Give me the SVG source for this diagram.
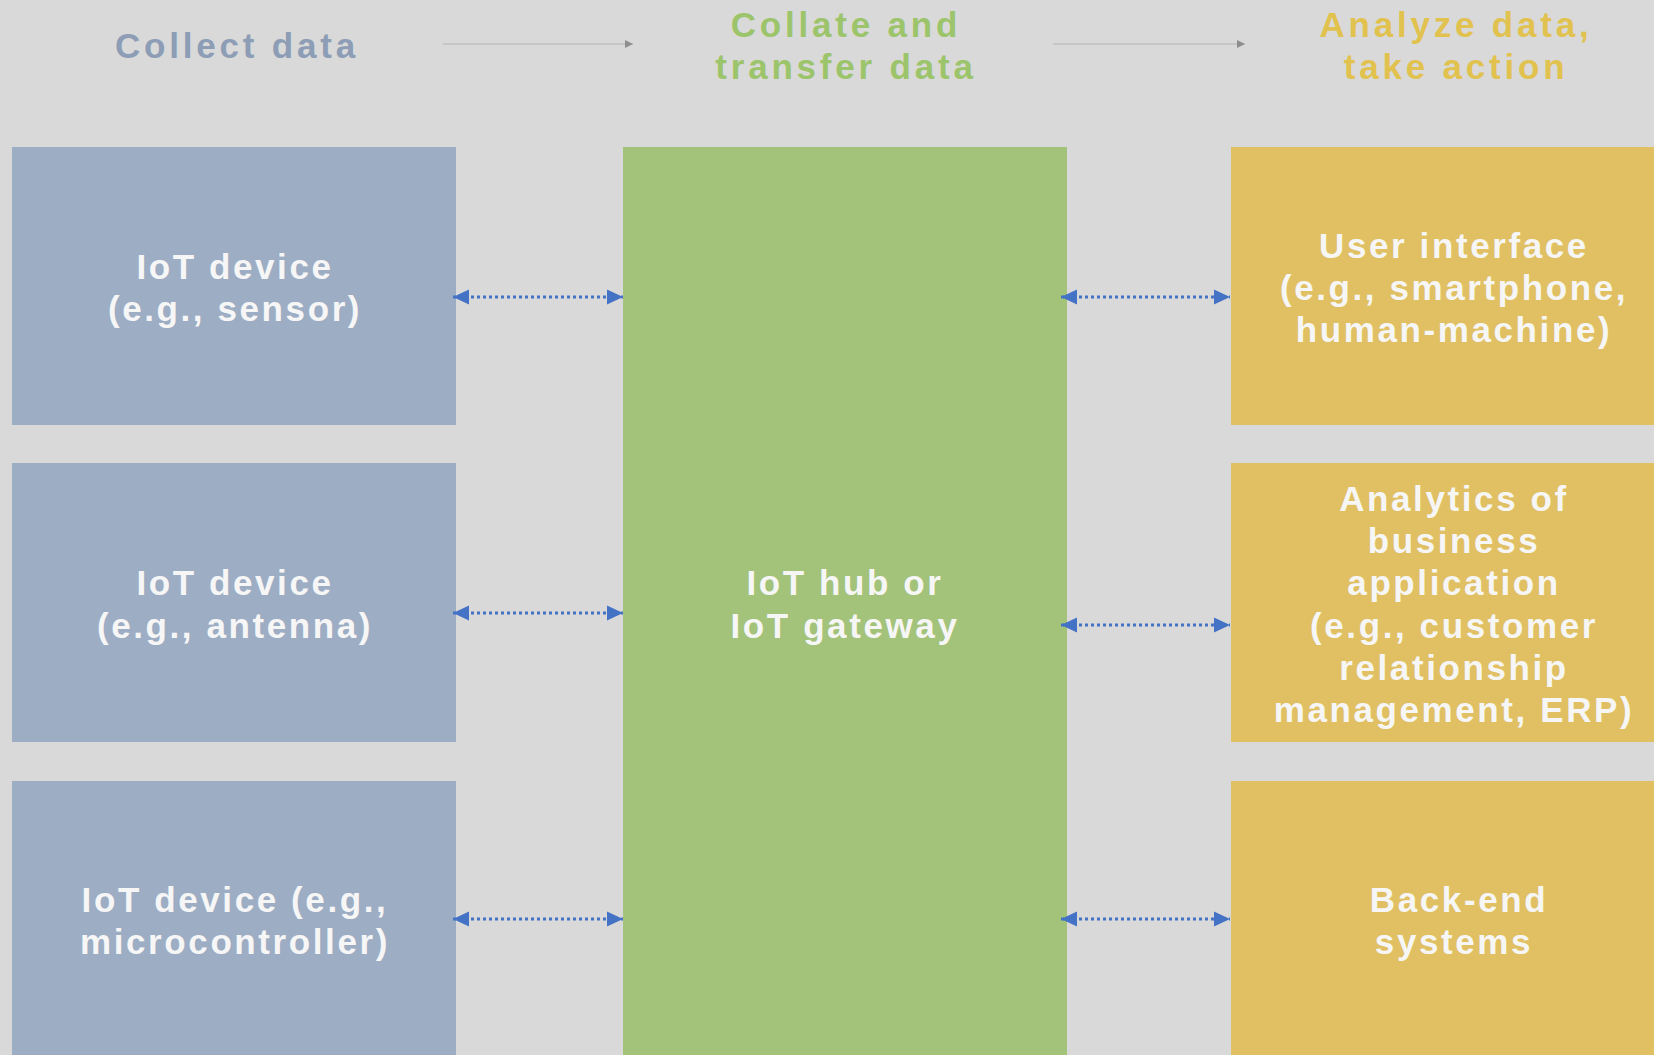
<svg xmlns="http://www.w3.org/2000/svg" width="1654" height="1055" viewBox="0 0 1654 1055">
<defs>
<style>
.hdr{font-family:"Liberation Sans",Arial,sans-serif;font-weight:700;font-size:35px;text-anchor:middle;letter-spacing:3.8px}
.lbl{font-family:"Liberation Sans",Arial,sans-serif;font-weight:700;font-size:35px;text-anchor:middle;letter-spacing:2.6px;fill:#f6f6f6}
.blue{fill:#9dadc4}
.green{fill:#a3c27a}
.yellow{fill:#e0c063}
.link{stroke:#4472c4;stroke-width:3;stroke-dasharray:3 3;fill:none}
.flow{stroke:#c6c6c6;stroke-width:2;fill:none}
</style>
<marker id="ah" viewBox="0 0 16 16" markerWidth="16" markerHeight="16" refX="16" refY="8" orient="auto-start-reverse" markerUnits="userSpaceOnUse">
<path d="M0,0.5 L16,8 L0,15.5 Z" fill="#4472c4"/>
</marker>
<marker id="sh" viewBox="0 0 8 8" markerWidth="8" markerHeight="8" refX="8" refY="4" orient="auto" markerUnits="userSpaceOnUse">
<path d="M0,0 L8,4 L0,8 Z" fill="#8e8e8e"/>
</marker>
</defs>
<rect width="1654" height="1055" fill="#d9d9d9"/>

<g id="headers">
<text class="hdr" x="237" y="58" fill="#8c9db5">Collect data</text>
<text class="hdr" x="846" y="37" fill="#9cc46a">Collate and</text>
<text class="hdr" x="846" y="79" fill="#9cc46a">transfer data</text>
<text class="hdr" x="1456" y="37" fill="#e2c24e">Analyze data,</text>
<text class="hdr" x="1456" y="79" fill="#e2c24e">take action</text>
</g>

<g id="device-sensor">
<rect class="blue" x="12" y="147" width="444" height="278"/>
<text class="lbl" x="235" y="279">IoT device</text>
<text class="lbl" x="235" y="321">(e.g., sensor)</text>
</g>
<g id="device-antenna">
<rect class="blue" x="12" y="463" width="444" height="279"/>
<text class="lbl" x="235" y="595">IoT device</text>
<text class="lbl" x="235" y="638">(e.g., antenna)</text>
</g>
<g id="device-microcontroller">
<rect class="blue" x="12" y="781" width="444" height="274"/>
<text class="lbl" x="235" y="912">IoT device (e.g.,</text>
<text class="lbl" x="235" y="954">microcontroller)</text>
</g>

<g id="hub">
<rect class="green" x="623" y="147" width="444" height="908"/>
<text class="lbl" x="845" y="595">IoT hub or</text>
<text class="lbl" x="845" y="638">IoT gateway</text>
</g>

<g id="user-interface">
<rect class="yellow" x="1231" y="147" width="423" height="278"/>
<text class="lbl" x="1454" y="258">User interface</text>
<text class="lbl" x="1454" y="300">(e.g., smartphone,</text>
<text class="lbl" x="1454" y="342">human-machine)</text>
</g>
<g id="analytics">
<rect class="yellow" x="1231" y="463" width="423" height="279"/>
<text class="lbl" x="1454" y="511">Analytics of</text>
<text class="lbl" x="1454" y="553">business</text>
<text class="lbl" x="1454" y="595">application</text>
<text class="lbl" x="1454" y="638">(e.g., customer</text>
<text class="lbl" x="1454" y="680">relationship</text>
<text class="lbl" x="1454" y="722">management, ERP)</text>
</g>
<g id="backend">
<rect class="yellow" x="1231" y="781" width="423" height="274"/>
<text class="lbl" x="1459" y="912">Back-end</text>
<text class="lbl" x="1454" y="954">systems</text>
</g>

<g id="connectors">
<line class="flow" x1="443" y1="44" x2="633" y2="44" marker-end="url(#sh)"/>
<line class="flow" x1="1053" y1="44" x2="1245" y2="44" marker-end="url(#sh)"/>
<line class="link" x1="453" y1="297" x2="623" y2="297" marker-start="url(#ah)" marker-end="url(#ah)"/>
<line class="link" x1="453" y1="613" x2="623" y2="613" marker-start="url(#ah)" marker-end="url(#ah)"/>
<line class="link" x1="453" y1="919" x2="623" y2="919" marker-start="url(#ah)" marker-end="url(#ah)"/>
<line class="link" x1="1061" y1="297" x2="1230" y2="297" marker-start="url(#ah)" marker-end="url(#ah)"/>
<line class="link" x1="1061" y1="625" x2="1230" y2="625" marker-start="url(#ah)" marker-end="url(#ah)"/>
<line class="link" x1="1061" y1="919" x2="1230" y2="919" marker-start="url(#ah)" marker-end="url(#ah)"/>
</g>
</svg>
